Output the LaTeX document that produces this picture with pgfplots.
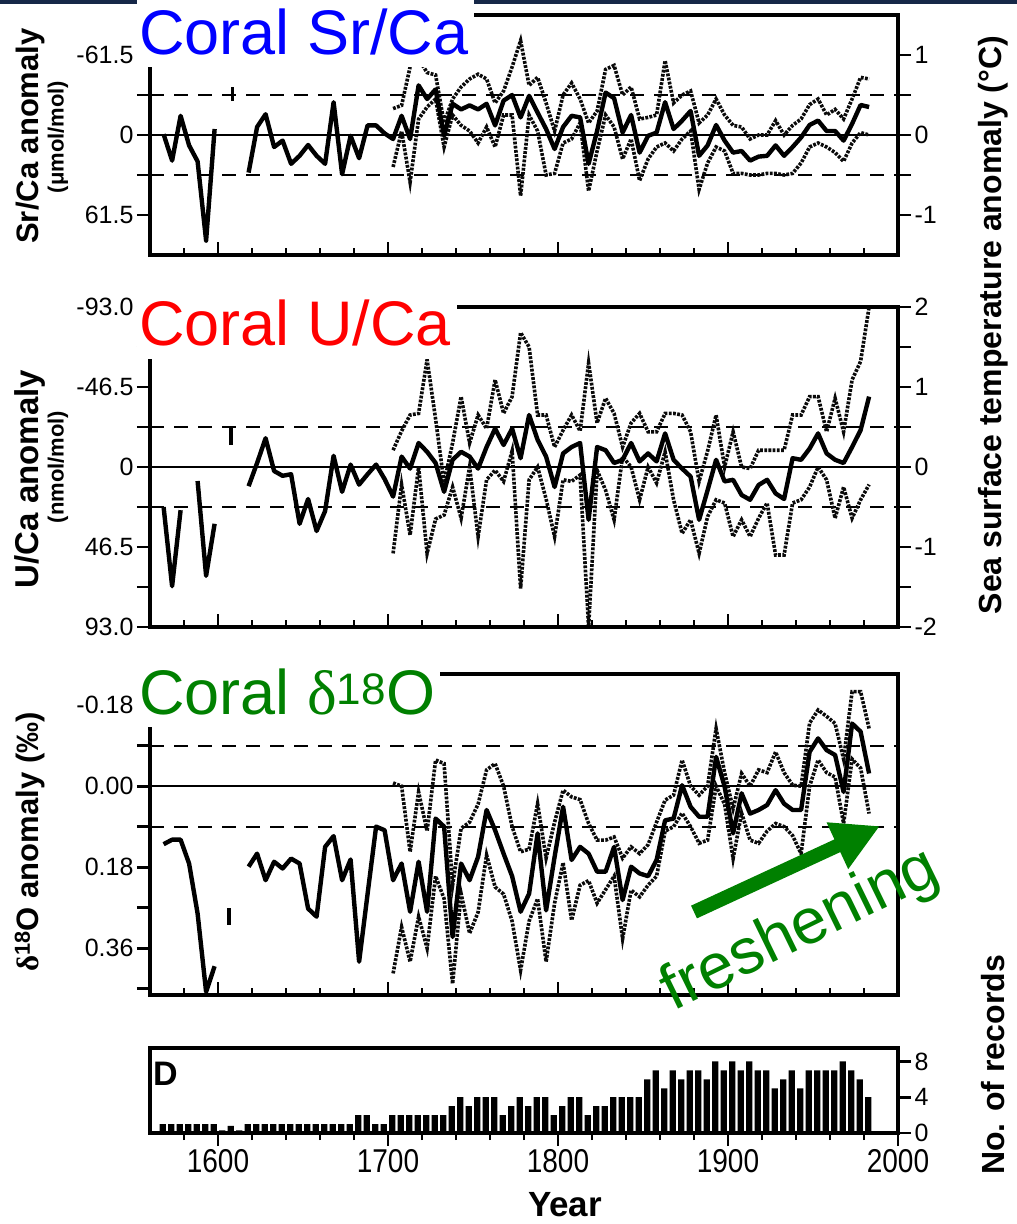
\documentclass[border=0pt]{standalone}
\usepackage{fontspec}
\setmainfont{Liberation Sans}
\newfontfamily\serifgr{Liberation Serif}
\usepackage{graphicx}
\usepackage{pgfplots}
\pgfplotsset{compat=1.18}
\usetikzlibrary{arrows.meta}
\definecolor{navy}{RGB}{22,40,72}
\definecolor{cgreen}{RGB}{0,128,0}
\definecolor{dotgray}{RGB}{10,10,10}
\newcommand{\fs}[1]{\fontsize{#1}{#1}\selectfont}
\newcommand{\sx}[1]{\scalebox{0.85}[1]{#1}}
\pgfplotsset{
  base/.style={
    scale only axis, width=748pt, xmin=1560, xmax=2000,
    anchor=north west,
    axis line style={line width=3.6pt},
    tick style={black, line width=2.8pt},
    major tick length=13pt, minor tick length=7pt,
    tick label style={font=\fs{25pt}},
    /pgf/number format/assume math mode=true,
    unbounded coords=jump,
  },
  solidl/.style={black, line width=4.4pt, line join=round},
  dotl/.style={dotgray, line width=3.6pt, dash pattern=on 2.8pt off 1.4pt},
  refdash/.style={black, line width=1.9pt, dash pattern=on 14pt off 10pt},
  zerol/.style={black, line width=2.2pt},
  xover/.style={base, hide y axis, axis x line*=bottom, tick align=inside,
    xtick={1600,1700,1800,1900}, xticklabels={},
    minor xtick={1580,1620,1640,1660,1680,1720,1740,1760,1780,1820,1840,1860,1880,1920,1940,1960,1980}},
}
\begin{document}
\begin{tikzpicture}
\path[use as bounding box] (0pt,0pt) rectangle (1017pt,-1224pt);

% ---------------- Panel 1: Sr/Ca ----------------
\begin{axis}[base, at={(150pt,-15pt)}, height=240pt, ymin=-1.5, ymax=1.5,
  xtick=\empty, ytick pos=left, tick align=outside,
  ytick={-1,-0.5,0,0.5,1}, yticklabels={61.5,,0,,-61.5}]
\addplot[refdash] coordinates {(1560,0.5)(2000,0.5)};
\addplot[refdash] coordinates {(1560,-0.5)(2000,-0.5)};
\addplot[zerol] coordinates {(1560,0)(2000,0)};
\addplot[dotl] coordinates {(1703,0.33)(1708,0.37)(1713,0.85)(1718,0.95)(1723,0.78)(1728,0.75)(1733,0.15)(1738,0.45)(1743,0.60)(1748,0.70)(1753,0.76)(1758,0.70)(1763,0.40)(1768,0.55)(1773,0.85)(1778,1.18)(1783,0.62)(1788,0.72)(1793,0.40)(1798,0.05)(1803,0.50)(1808,0.65)(1813,0.45)(1818,0.15)(1823,0.30)(1828,0.82)(1833,0.87)(1838,0.50)(1843,0.60)(1848,0.20)(1853,0.22)(1858,0.25)(1863,0.93)(1868,0.40)(1873,0.50)(1878,0.55)(1883,0.15)(1888,0.25)(1893,0.45)(1898,0.25)(1903,0.12)(1908,0.10)(1913,-0.05)(1918,0.0)(1923,0.0)(1928,0.18)(1933,0.0)(1938,0.12)(1943,0.20)(1948,0.38)(1953,0.45)(1958,0.25)(1963,0.32)(1968,0.20)(1973,0.45)(1978,0.72)(1983,0.70)};
\addplot[dotl] coordinates {(1703,-0.40)(1708,0.05)(1713,-0.59)(1718,0.20)(1723,0.35)(1728,0.45)(1733,-0.15)(1738,0.25)(1743,0.12)(1748,0.05)(1753,-0.10)(1758,0.10)(1763,-0.15)(1768,0.25)(1773,0.25)(1778,-0.76)(1783,0.25)(1788,0.05)(1793,-0.50)(1798,-0.48)(1803,-0.10)(1808,-0.05)(1813,0.15)(1818,-0.70)(1823,-0.20)(1828,0.25)(1833,0.10)(1838,-0.30)(1843,-0.05)(1848,-0.57)(1853,-0.30)(1858,-0.15)(1863,-0.10)(1868,-0.20)(1873,-0.05)(1878,0.05)(1883,-0.68)(1888,-0.35)(1893,-0.15)(1898,-0.20)(1903,-0.48)(1908,-0.48)(1913,-0.50)(1918,-0.50)(1923,-0.48)(1928,-0.48)(1933,-0.50)(1938,-0.48)(1943,-0.35)(1948,-0.15)(1953,-0.10)(1958,-0.15)(1963,-0.22)(1968,-0.33)(1973,-0.10)(1978,0.03)(1983,0.00)};
\addplot[solidl] coordinates {(1568,0.01)(1573,-0.32)(1578,0.24)(1583,-0.13)(1588,-0.33)(1593,-1.32)(1598,0.075)(1603,nan)(1618,-0.47)(1623,0.10)(1628,0.26)(1633,-0.15)(1638,-0.07)(1643,-0.36)(1648,-0.26)(1653,-0.125)(1658,-0.26)(1663,-0.36)(1668,0.41)(1673,-0.49)(1678,-0.01)(1683,-0.29)(1688,0.12)(1693,0.12)(1698,0.02)(1703,-0.05)(1708,0.24)(1713,-0.05)(1718,0.62)(1723,0.45)(1728,0.57)(1733,-0.01)(1738,0.39)(1743,0.32)(1748,0.37)(1753,0.32)(1758,0.39)(1763,0.12)(1768,0.43)(1773,0.50)(1778,0.22)(1783,0.49)(1788,0.28)(1793,0.075)(1798,-0.175)(1803,0.10)(1808,0.24)(1813,0.22)(1818,-0.36)(1823,0.05)(1828,0.53)(1833,0.46)(1838,0.03)(1843,0.25)(1848,-0.22)(1853,-0.01)(1858,0.03)(1863,0.41)(1868,0.075)(1873,0.18)(1878,0.30)(1883,-0.26)(1888,-0.13)(1893,0.125)(1898,-0.07)(1903,-0.22)(1908,-0.20)(1913,-0.32)(1918,-0.27)(1923,-0.26)(1928,-0.13)(1933,-0.26)(1938,-0.15)(1943,-0.03)(1948,0.125)(1953,0.18)(1958,0.05)(1963,0.05)(1968,-0.07)(1973,0.14)(1978,0.375)(1983,0.35)};
\addplot[black, line width=3.5pt] coordinates {(1608.6,0.425)(1608.6,0.6)};
\end{axis}
\begin{axis}[base, at={(150pt,-15pt)}, height=240pt, ymin=-1.5, ymax=1.5,
  hide x axis, axis y line*=right, tick align=outside,
  ytick={-1,-0.5,0,0.5,1}, yticklabels={-1,,0,,1}]
\end{axis}
\begin{axis}[xover, at={(150pt,-15pt)}, height=240pt, ymin=-1.5, ymax=1.5]
\end{axis}

% ---------------- Panel 2: U/Ca ----------------
\begin{axis}[base, at={(150pt,-307pt)}, height=320pt, ymin=-2, ymax=2,
  xtick=\empty, ytick pos=left, tick align=outside,
  ytick={-2,-1.5,-1,-0.5,0,0.5,1,1.5,2}, yticklabels={93.0,,46.5,,0,,-46.5,,-93.0}]
\addplot[refdash] coordinates {(1560,0.5)(2000,0.5)};
\addplot[refdash] coordinates {(1560,-0.5)(2000,-0.5)};
\addplot[zerol] coordinates {(1560,0)(2000,0)};
\addplot[dotl] coordinates {(1703,0.21)(1708,0.45)(1713,0.65)(1718,0.67)(1723,1.34)(1728,0.60)(1733,-0.20)(1738,0.30)(1743,0.88)(1748,0.30)(1753,0.65)(1758,0.48)(1763,1.09)(1768,0.67)(1773,0.88)(1778,1.68)(1783,1.50)(1788,0.65)(1793,0.65)(1798,0.25)(1803,0.46)(1808,0.65)(1813,0.45)(1818,1.30)(1823,0.55)(1828,0.86)(1833,0.67)(1838,0.25)(1843,0.55)(1848,0.67)(1853,0.44)(1858,0.44)(1863,0.67)(1868,0.67)(1873,0.65)(1878,0.44)(1883,-0.18)(1888,0.20)(1893,0.65)(1898,0.0)(1903,0.44)(1908,0.0)(1913,-0.02)(1918,0.21)(1923,0.21)(1928,0.21)(1933,0.21)(1938,0.65)(1943,0.65)(1948,0.88)(1953,0.88)(1958,0.44)(1963,0.86)(1968,0.44)(1973,1.09)(1978,1.32)(1983,2.0)};
\addplot[dotl] coordinates {(1703,-1.08)(1708,-0.22)(1713,-0.85)(1718,0.0)(1723,-1.08)(1728,-0.65)(1733,-0.60)(1738,-0.25)(1743,-0.64)(1748,0.0)(1753,-0.87)(1758,-0.16)(1763,-0.04)(1768,-0.18)(1773,0.20)(1778,-1.52)(1783,-0.16)(1788,0.0)(1793,-0.40)(1798,-0.87)(1803,-0.16)(1808,-0.18)(1813,-0.10)(1818,-2.0)(1823,-0.04)(1828,-0.29)(1833,-0.66)(1838,0.13)(1843,0.0)(1848,-0.41)(1853,0.0)(1858,-0.20)(1863,0.19)(1868,-0.41)(1873,-0.83)(1878,-0.66)(1883,-1.08)(1888,-0.62)(1893,-0.41)(1898,-0.45)(1903,-0.87)(1908,-0.66)(1913,-0.87)(1918,-0.64)(1923,-0.45)(1928,-1.10)(1933,-1.10)(1938,-0.45)(1943,-0.41)(1948,-0.25)(1953,0.0)(1958,-0.16)(1963,-0.64)(1968,-0.25)(1973,-0.64)(1978,-0.41)(1983,-0.22)};
\addplot[solidl] coordinates {(1568,-0.50)(1573,-1.49)(1578,-0.54)(1583,nan)(1588,-0.175)(1593,-1.36)(1598,-0.71)(1603,nan)(1618,-0.24)(1623,0.05)(1628,0.36)(1633,-0.05)(1638,-0.11)(1643,-0.09)(1648,-0.71)(1653,-0.40)(1658,-0.80)(1663,-0.55)(1668,0.14)(1673,-0.31)(1678,0.03)(1683,-0.22)(1688,-0.09)(1693,0.03)(1698,-0.15)(1703,-0.37)(1708,0.13)(1713,-0.02)(1718,0.30)(1723,0.19)(1728,0.05)(1733,-0.31)(1738,0.09)(1743,0.19)(1748,0.13)(1753,-0.02)(1758,0.25)(1763,0.48)(1768,0.275)(1773,0.48)(1778,0.11)(1783,0.65)(1788,0.34)(1793,0.13)(1798,-0.25)(1803,0.17)(1808,0.25)(1813,0.30)(1818,-0.66)(1823,0.25)(1828,0.21)(1833,0.05)(1838,0.09)(1843,0.30)(1848,0.07)(1853,0.17)(1858,0.07)(1863,0.42)(1868,0.09)(1873,-0.02)(1878,-0.12)(1883,-0.66)(1888,-0.29)(1893,0.09)(1898,-0.18)(1903,-0.16)(1908,-0.35)(1913,-0.41)(1918,-0.225)(1923,-0.16)(1928,-0.33)(1933,-0.40)(1938,0.11)(1943,0.09)(1948,0.23)(1953,0.42)(1958,0.17)(1963,0.09)(1968,0.05)(1973,0.25)(1978,0.46)(1983,0.88)};
\addplot[black, line width=3.5pt] coordinates {(1607.6,0.275)(1607.6,0.49)};
\end{axis}
\begin{axis}[base, at={(150pt,-307pt)}, height=320pt, ymin=-2, ymax=2,
  hide x axis, axis y line*=right, tick align=outside,
  ytick={-2,-1.5,-1,-0.5,0,0.5,1,1.5,2}, yticklabels={-2,,-1,,0,,1,,2}]
\end{axis}
\begin{axis}[xover, at={(150pt,-307pt)}, height=320pt, ymin=-2, ymax=2]
\end{axis}

% ---------------- Panel 3: d18O ----------------
\begin{axis}[base, at={(150pt,-674pt)}, height=321pt, ymin=-0.249, ymax=0.464, y dir=reverse,
  xtick=\empty, ytick pos=left, tick align=outside,
  ytick={-0.18,-0.09,0,0.09,0.18,0.27,0.36,0.45}, yticklabels={-0.18,,0.00,,0.18,,0.36,}]
\addplot[refdash] coordinates {(1560,0.09)(2000,0.09)};
\addplot[refdash] coordinates {(1560,-0.09)(2000,-0.09)};
\addplot[zerol] coordinates {(1560,0)(2000,0)};
\addplot[dotl] coordinates {(1703,-0.007)(1708,0.0)(1713,0.146)(1718,0.013)(1723,0.10)(1728,-0.058)(1733,-0.05)(1738,0.22)(1743,0.094)(1748,0.08)(1753,0.04)(1758,-0.036)(1763,-0.05)(1768,0.0)(1773,0.09)(1778,0.146)(1783,0.14)(1788,0.039)(1793,0.16)(1798,0.08)(1803,0.009)(1808,0.024)(1813,0.03)(1818,0.083)(1823,0.12)(1828,0.12)(1833,0.113)(1838,0.16)(1843,0.135)(1848,0.15)(1853,0.13)(1858,0.08)(1863,0.031)(1868,0.02)(1873,-0.058)(1878,0.0)(1883,0.02)(1888,0.0)(1893,-0.128)(1898,-0.03)(1903,0.05)(1908,-0.028)(1913,0.0)(1918,-0.036)(1923,-0.03)(1928,-0.076)(1933,-0.03)(1938,-0.002)(1943,0.0)(1948,-0.14)(1953,-0.169)(1958,-0.155)(1963,-0.139)(1968,-0.06)(1973,-0.21)(1978,-0.21)(1983,-0.128)};
\addplot[dotl] coordinates {(1703,0.416)(1708,0.313)(1713,0.39)(1718,0.29)(1723,0.36)(1728,0.20)(1733,0.25)(1738,0.439)(1743,0.239)(1748,0.327)(1753,0.28)(1758,0.153)(1763,0.224)(1768,0.24)(1773,0.30)(1778,0.409)(1783,0.30)(1788,0.25)(1793,0.39)(1798,0.26)(1803,0.17)(1808,0.298)(1813,0.22)(1818,0.21)(1823,0.26)(1828,0.23)(1833,0.20)(1838,0.339)(1843,0.231)(1848,0.246)(1853,0.22)(1858,0.20)(1863,0.10)(1868,0.09)(1873,0.06)(1878,0.09)(1883,0.127)(1888,0.12)(1893,0.0)(1898,0.04)(1903,0.161)(1908,0.06)(1913,0.12)(1918,0.127)(1923,0.10)(1928,0.083)(1933,0.09)(1938,0.11)(1943,0.15)(1948,0.0)(1953,-0.058)(1958,-0.03)(1963,-0.02)(1968,0.083)(1973,-0.06)(1978,-0.04)(1983,0.061)};
\addplot[solidl] coordinates {(1568,0.129)(1573,0.119)(1578,0.119)(1583,0.172)(1588,0.283)(1593,0.457)(1598,0.40)(1603,nan)(1618,0.179)(1623,0.15)(1628,0.209)(1633,0.168)(1638,0.183)(1643,0.161)(1648,0.172)(1653,0.272)(1658,0.29)(1663,0.135)(1668,0.111)(1673,0.209)(1678,0.163)(1683,0.39)(1688,0.239)(1693,0.09)(1698,0.098)(1703,0.209)(1708,0.172)(1713,0.279)(1718,0.168)(1723,0.279)(1728,0.072)(1733,0.09)(1738,0.335)(1743,0.172)(1748,0.209)(1753,0.157)(1758,0.053)(1763,0.098)(1768,0.15)(1773,0.20)(1778,0.279)(1783,0.239)(1788,0.105)(1793,0.276)(1798,0.157)(1803,0.046)(1808,0.164)(1813,0.135)(1818,0.15)(1823,0.19)(1828,0.19)(1833,0.135)(1838,0.253)(1843,0.179)(1848,0.194)(1853,0.20)(1858,0.164)(1863,0.076)(1868,0.072)(1873,-0.002)(1878,0.046)(1883,0.068)(1888,0.068)(1893,-0.065)(1898,0.001)(1903,0.105)(1908,0.016)(1913,0.061)(1918,0.053)(1923,0.042)(1928,0.009)(1933,0.039)(1938,0.053)(1943,0.053)(1948,-0.076)(1953,-0.106)(1958,-0.08)(1963,-0.069)(1968,0.013)(1973,-0.139)(1978,-0.121)(1983,-0.028)};
\addplot[black, line width=3.5pt] coordinates {(1606.6,0.271)(1606.6,0.309)};
\end{axis}
\begin{axis}[xover, at={(150pt,-674pt)}, height=321pt, ymin=-0.249, ymax=0.464]
\end{axis}

% ---------------- Panel D: number of records ----------------
\begin{axis}[base, at={(150pt,-1048pt)}, height=85pt, ymin=0, ymax=9.5,
  tick align=outside, ytick pos=right, xtick pos=bottom,
  ytick={0,4,8}, yticklabels={0,4,8},
  xtick={1600,1700,1800,1900,2000},
  xticklabels={\sx{1600},\sx{1700},\sx{1800},\sx{1900},\sx{2000}},
  xticklabel style={font=\fs{33pt}},
  minor xtick={1580,1620,1640,1660,1680,1720,1740,1760,1780,1820,1840,1860,1880,1920,1940,1960,1980}]
\addplot[ybar, bar width=3.8, bar shift=0pt, fill=black, draw=none] coordinates {
(1567.5,1)(1572.5,1)(1577.5,1)(1582.5,1)(1587.5,1)(1592.5,1)(1597.5,1)(1602.5,0.3)(1607.5,0.8)(1612.5,0.3)
(1617.5,1)(1622.5,1)(1627.5,1)(1632.5,1)(1637.5,1)(1642.5,1)(1647.5,1)(1652.5,1)(1657.5,1)(1662.5,1)(1667.5,1)(1672.5,1)(1677.5,1)
(1682.5,2)(1687.5,2)(1692.5,1)(1697.5,1)(1702.5,2)(1707.5,2)(1712.5,2)(1717.5,2)(1722.5,2)(1727.5,2)(1732.5,2)
(1737.5,3)(1742.5,4)(1747.5,3)(1752.5,4)(1757.5,4)(1762.5,4)(1767.5,2)(1772.5,3)(1777.5,4)(1782.5,3)(1787.5,4)(1792.5,4)
(1797.5,2)(1802.5,3)(1807.5,4)(1812.5,4)(1817.5,2)(1822.5,3)(1827.5,3)(1832.5,4)(1837.5,4)(1842.5,4)(1847.5,4)
(1852.5,6)(1857.5,7)(1862.5,5)(1867.5,7)(1872.5,6)(1877.5,7)(1882.5,7)(1887.5,6)(1892.5,8)(1897.5,7)(1902.5,8)(1907.5,7)
(1912.5,8)(1917.5,7)(1922.5,7)(1927.5,5)(1932.5,6)(1937.5,7)(1942.5,5)(1947.5,7)(1952.5,7)(1957.5,7)(1962.5,7)(1967.5,8)
(1972.5,7)(1977.5,6)(1982.5,4)};
\end{axis}

% ---------------- decorations ----------------
\fill[navy] (0pt,0pt) rectangle (1017pt,-4pt);
\fill[white] (137pt,0pt) rectangle (474pt,-67pt);
\fill[white] (137pt,-286pt) rectangle (457pt,-359pt);
\fill[white] (137pt,-660pt) rectangle (440pt,-727pt);
\node[anchor=base west, inner sep=0pt, text=blue, font=\fs{63pt}] at (139pt,-54pt) {Coral Sr/Ca};
\node[anchor=base west, inner sep=0pt, text=red, font=\fs{63pt}] at (139pt,-345pt) {Coral U/Ca};
\node[anchor=base west, inner sep=0pt, text=cgreen, font=\fs{63pt}] at (139pt,-714pt) {Coral {\serifgr δ}\textsuperscript{18}O};

% axis labels
\node[rotate=90, font=\bfseries\fs{31pt}] at (30pt,-136pt) {Sr/Ca anomaly};
\node[rotate=90, font=\bfseries\fs{22pt}] at (58pt,-137pt) {(μmol/mol)};
\node[rotate=90, font=\bfseries\fs{33pt}] at (30pt,-479pt) {U/Ca anomaly};
\node[rotate=90, font=\bfseries\fs{22pt}] at (58pt,-467pt) {(nmol/mol)};
\node[rotate=90, font=\bfseries\fs{31pt}] at (30pt,-842pt) {{\serifgr\bfseries δ}\textsuperscript{18}O anomaly (‰)};
\node[rotate=90, font=\bfseries\fs{32pt}] at (993pt,-325pt) {Sea surface temperature anomaly (°C)};
\node[rotate=90, font=\bfseries\fs{32pt}] at (993pt,-1065pt) {No. of records};
\node[font=\bfseries\fs{35pt}] at (565pt,-1205pt) {Year};
\node[anchor=north west, inner sep=0pt, font=\bfseries\fs{34pt}] at (153pt,-1062pt) {D};

% freshening arrow
\draw[cgreen, line width=14pt, -{Triangle[length=47pt, width=48pt]}] (694pt,-912pt) -- (880pt,-826pt);
\node[text=cgreen, font=\fs{64pt}, rotate=26, anchor=base, inner sep=0pt] at (808pt,-946pt) {freshening};
\end{tikzpicture}
\end{document}
